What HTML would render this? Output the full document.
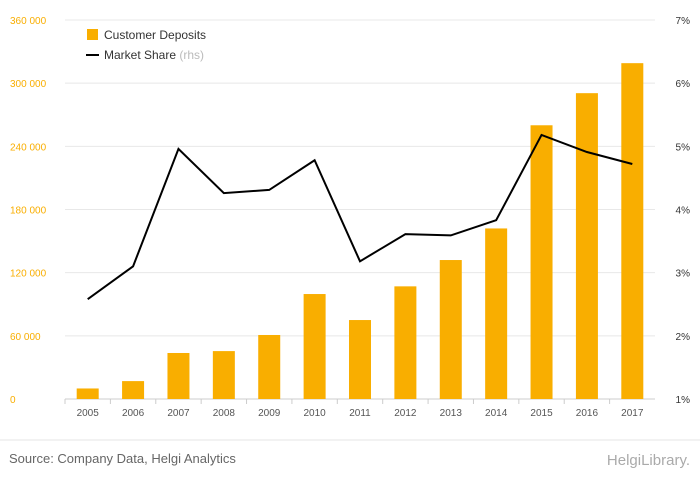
<!DOCTYPE html>
<html><head><meta charset="utf-8"><style>
body{margin:0;background:#fff;font-family:"Liberation Sans",sans-serif;}
svg text{font-family:"Liberation Sans",sans-serif;}
</style></head><body>
<svg id="chart" width="700" height="483" xmlns="http://www.w3.org/2000/svg">
<rect width="700" height="483" fill="#fff"/>
<g id="grid"></g><g id="bars"></g><g id="line"></g><g id="axes"></g>
<g>
<rect x="87" y="29" width="11" height="11" fill="#f9ae00"/>
<text x="104" y="39" font-size="12" fill="#333">Customer Deposits</text>
<line x1="86" y1="55" x2="99" y2="55" stroke="#000" stroke-width="2"/>
<text x="104" y="59" font-size="12" fill="#333">Market Share <tspan fill="#bbb">(rhs)</tspan></text>
</g>
<line x1="0" y1="440" x2="700" y2="440" stroke="#e5e5e5"/>
<text x="9" y="463" font-size="13" fill="#666">Source: Company Data, Helgi Analytics</text>
<text x="690" y="465" font-size="15" fill="#aaa" text-anchor="end">HelgiLibrary.</text>
</svg>
<script>
const years=["2005","2006","2007","2008","2009","2010","2011","2012","2013","2014","2015","2016","2017"];
const deposits=[10000,17000,43700,45500,60800,99700,75000,107000,132000,162000,260000,290500,319000];
const share=[2.58,3.10,4.96,4.26,4.31,4.78,3.18,3.61,3.59,3.83,5.18,4.91,4.72];
const leftTicks=[0,60000,120000,180000,240000,300000,360000];
const leftLabels=["0","60 000","120 000","180 000","240 000","300 000","360 000"];
const rightTicks=[1,2,3,4,5,6,7];
const rightLabels=["1%","2%","3%","4%","5%","6%","7%"];
const X0=65,X1=655,Y0=399,Y1=20;
const step=(X1-X0)/years.length;
const xc=i=>X0+step*(i+0.5);
const yL=v=>Y0-(v/360000)*(Y0-Y1);
const yR=v=>Y0-((v-1)/6)*(Y0-Y1);
const NS="http://www.w3.org/2000/svg";
function mk(tag,attrs,parent,txt){const e=document.createElementNS(NS,tag);for(const k in attrs)e.setAttribute(k,attrs[k]);if(txt!==undefined)e.textContent=txt;document.getElementById(parent).appendChild(e);return e;}
leftTicks.forEach((t,i)=>{
 const g=mk("line",{x1:X0,x2:X1,y1:yL(t),y2:yL(t),stroke:i==0?"#ccc":"#e8e8e8"},"grid");
 
 
 const l=mk("text",{x:10,y:yL(t)+4,"font-size":10,fill:"#f9ae00"},"axes",leftLabels[i]);
 
 
});
rightTicks.forEach((t,i)=>{
 const l=mk("text",{x:690,y:yR(t)+4,"font-size":10,fill:"#333","text-anchor":"end"},"axes",rightLabels[i]);
 
 
});
years.forEach((y,i)=>{
 const b=mk("rect",{x:xc(i)-11,y:yL(deposits[i]),width:22,height:Y0-yL(deposits[i]),fill:"#f9ae00"},"bars");
 
 
 const t=mk("text",{x:xc(i),y:416,"font-size":10,fill:"#555","text-anchor":"middle"},"axes",y);
 
 
 const tk=mk("line",{x1:X0+step*i,x2:X0+step*i,y1:Y0,y2:Y0+5,stroke:"#ccc"},"axes");
 
 
});
const p=mk("polyline",{points:share.map((v,i)=>xc(i)+","+yR(v)).join(" "),fill:"none",stroke:"#000","stroke-width":2},"line");


</script>
</body></html>
